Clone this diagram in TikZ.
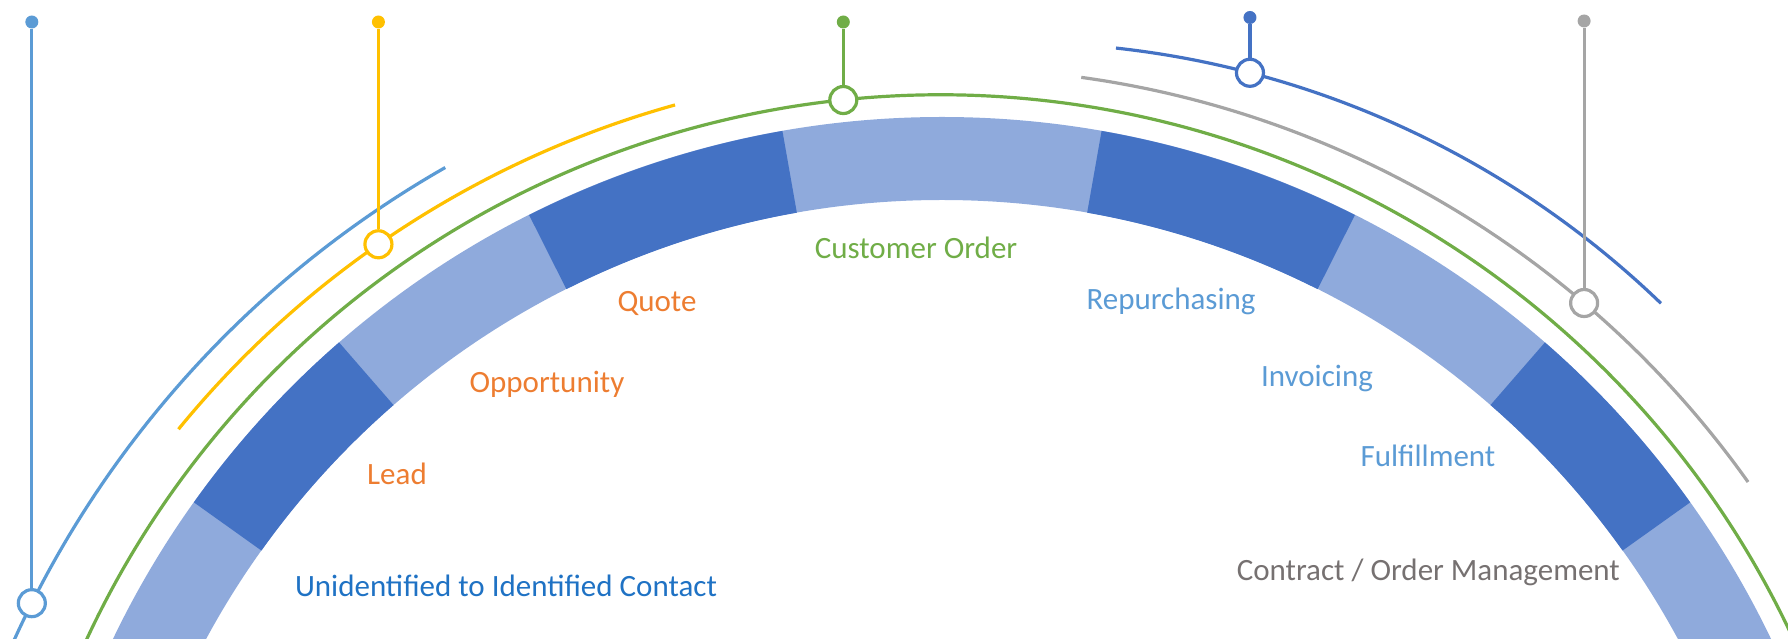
\documentclass[tikz,border=0pt]{standalone}
\usepackage{fontspec}
\setmainfont{Carlito}
\definecolor{dark}{HTML}{4472C4}
\definecolor{lite}{HTML}{8FAADC}
\definecolor{grn}{HTML}{70AD47}
\definecolor{ylw}{HTML}{FFC000}
\definecolor{sky}{HTML}{5B9BD5}
\definecolor{gry}{HTML}{A5A5A5}
\definecolor{org}{HTML}{ED7D31}
\definecolor{ink}{HTML}{1F72C4}
\definecolor{slate}{HTML}{767171}
\begin{document}
\begin{tikzpicture}[x=1pt,y=1pt,
    track/.style={line width=3.2pt},
    knob/.style={circle, draw, fill=white, line width=3.2pt, minimum size=27pt, inner sep=0pt},
    bead/.style={circle, fill, minimum size=13pt, inner sep=0pt},
    lbl/.style={anchor=base, font=\fontsize{31}{37}\selectfont}]
    \useasboundingbox (0,0) rectangle (1788,639);
    \clip (0,0) rectangle (1788,639);
    \begin{scope}[shift={(942,-397)}]
    \fill[lite] (0:836) arc[start angle=0, end angle=180, radius=836] -- (180:919)
        arc[start angle=180, end angle=0, radius=919] -- cycle;
    \foreach \a/\b in {35.5/49, 63.3/80, 100/116.7, 131/144.5}
        \fill[dark] (\a:836) arc[start angle=\a, end angle=\b, radius=836] -- (\b:919)
            arc[start angle=\b, end angle=\a, radius=919] -- cycle;
    \end{scope}
    \coordinate (cG) at (940,-397);
    \coordinate (cL) at (960,-431);
    \coordinate (cY) at (938,-411);
    \coordinate (cR) at (946,-413);
    \coordinate (cB) at (1014.6,-334.8);
    \draw[track,sky] (cL) ++(119.7:1039) arc[start angle=119.7, end angle=170, radius=1039];
    \draw[track,ylw] (cY) ++(105.55:981) arc[start angle=105.55, end angle=140.74, radius=981];
    \draw[track,grn] (cG) ++(15:941) arc[start angle=15, end angle=165, radius=941];
    \draw[track,gry] (cR) ++(82.1:984) arc[start angle=82.1, end angle=35.4, radius=984];
    \draw[track,dark] (cB) ++(83.75:931.3) arc[start angle=83.75, end angle=46.05, radius=931.3];
    \path (cL) ++(153.3:1039) node[knob,draw=sky] (L) {};
    \path (cY) ++(124.78:981) node[knob,draw=ylw] (Y) {};
    \path (cG) ++(95.9:941) node[knob,draw=grn] (G) {};
    \path (cB) ++(75.36:931.3) node[knob,draw=dark] (B) {};
    \path (cR) ++(49.57:984) node[knob,draw=gry] (R) {};
    \node[bead,sky] (L0) at (L |- 0,617) {};
    \node[bead,ylw] (Y0) at (Y |- 0,617) {};
    \node[bead,grn] (G0) at (G |- 0,617) {};
    \node[bead,dark] (B0) at (B |- 0,621.5) {};
    \node[bead,gry] (R0) at (R |- 0,618) {};
    \draw[track,sky] (L0) -- (L);
    \draw[track,ylw] (Y0) -- (Y);
    \draw[track,grn] (G0) -- (G);
    \draw[track,dark] (B0) -- (B);
    \draw[track,gry] (R0) -- (R);
    \node[lbl,ink] (UC) at (506,42.3) {Unidentified to Identified Contact};
    \node[lbl,org] (Ld) at (397,154) {Lead};
    \node[lbl,org] (Op) at (547,246.5) {Opportunity};
    \node[lbl,org] (Qt) at (657,327.5) {Quote};
    \node[lbl,grn] (CO) at (916,380) {Customer Order};
    \node[lbl,sky] (Rp) at (1171,329.5) {Repurchasing};
    \node[lbl,sky] (Iv) at (1317,252) {Invoicing};
    \node[lbl,sky] (Ff) at (1428,172.5) {Fulfillment};
    \node[lbl,slate] (CM) at (1428.3,58.3) {Contract / Order Management};
\end{tikzpicture}
\end{document}
